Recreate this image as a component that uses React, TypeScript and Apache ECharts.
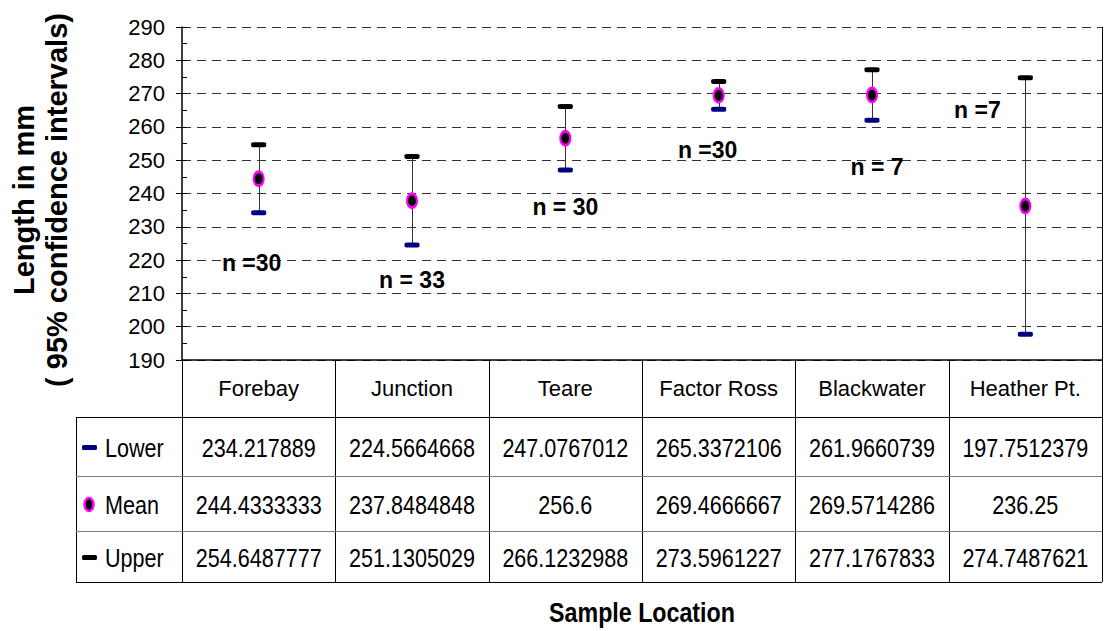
import React, { useEffect, useRef } from "react";
import * as echarts from "echarts";

// ---------- data ----------
const categories = ["Forebay", "Junction", "Teare", "Factor Ross", "Blackwater", "Heather Pt."];
const lowerValues = [234.217889, 224.5664668, 247.0767012, 265.3372106, 261.9660739, 197.7512379];
const meanValues = [244.4333333, 237.8484848, 256.6, 269.4666667, 269.5714286, 236.25];
const upperValues = [254.6487777, 251.1305029, 266.1232988, 273.5961227, 277.1767833, 274.7487621];
const rowNames = ["Lower", "Mean", "Upper"];
const sampleSizeLabels = ["n =30", "n = 33", "n = 30", "n =30", "n = 7", "n =7"];
const sampleLabelValues = [219, 214, 236, 253, 248, 265];
const yMin = 190;
const yMax = 290;
const yStep = 10;
const yAxisTitle = ["Length in mm", "( 95% confidence intervals)"];
const xAxisTitle = "Sample Location";

// ---------- layout ----------
const W = 1107;
const H = 631;
const GRID_L = 182;
const GRID_R = 1102;
const GRID_T = 27;
const GRID_B = 360;
const HEADER_B = 417;
const ROW_B = [476, 531, 582];
const LEGEND_L = 76;
const labelDx = [-7, 0, 0, -11, 5, -48];

const SANS = "'Liberation Sans', Arial, sans-serif";
const NARROW_X = 0.83;
const NAVY = "#000080";
const MAGENTA = "#ff00ff";
const ELLIPSE = "path://M0,-1 A1,1 0 1,1 0,1 A1,1 0 1,1 0,-1 Z";

export default function App() {
  const ref = useRef<HTMLDivElement>(null);

  useEffect(() => {
    document.body.style.margin = "0";
    const chart = echarts.init(ref.current as HTMLDivElement, null, { renderer: "svg" });
    const n = categories.length;
    const band = (GRID_R - GRID_L) / n;
    const rows = [lowerValues, meanValues, upperValues];
    const graphic: any[] = [];
    const line = (x1: number, y1: number, x2: number, y2: number, stroke: string, lw = 1) =>
      graphic.push({ type: "line", silent: true, z: 10, shape: { x1, y1, x2, y2 }, style: { stroke, lineWidth: lw } });
    const narrowText = (text: string, x: number, y: number, align: string, size = 26, weight = "normal") =>
      graphic.push({
        type: "text",
        silent: true,
        x,
        y,
        scaleX: NARROW_X,
        scaleY: 1,
        style: {
          text,
          font: `${weight} ${size}px ${SANS}`,
          fill: "#000",
          textAlign: align,
          textVerticalAlign: "middle",
        },
      });

    // table grid
    for (let k = 1; k < n; k++) {
      const x = Math.round(GRID_L + k * band) + 0.5;
      line(x, GRID_B, x, ROW_B[2], "#000");
    }
    line(GRID_L + 0.5, GRID_B, GRID_L + 0.5, ROW_B[2], "#000");
    line(GRID_R + 0.5, GRID_T, GRID_R + 0.5, ROW_B[2], "#000");
    line(LEGEND_L + 0.5, HEADER_B, LEGEND_L + 0.5, ROW_B[2], "#000");
    line(LEGEND_L, HEADER_B + 0.5, GRID_R, HEADER_B + 0.5, "#000");
    line(LEGEND_L, ROW_B[0] + 0.5, GRID_R, ROW_B[0] + 0.5, "#808080");
    line(LEGEND_L, ROW_B[1] + 0.5, GRID_R, ROW_B[1] + 0.5, "#808080");
    line(LEGEND_L, ROW_B[2] + 0.5, GRID_R, ROW_B[2] + 0.5, "#000");

    rows.forEach((vals, r) => {
      const top = r === 0 ? HEADER_B : ROW_B[r - 1];
      const cy = (top + ROW_B[r]) / 2 + 1;
      vals.forEach((v, i) => narrowText(String(v), GRID_L + band * (i + 0.5), cy, "center"));
      narrowText(rowNames[r], 105, cy, "left");
      if (r === 1) {
        graphic.push({
          type: "ellipse",
          silent: true,
          shape: { cx: 89, cy, rx: 4.5, ry: 6.5 },
          style: { fill: "#000", stroke: MAGENTA, lineWidth: 2.5 },
        });
      } else {
        graphic.push({
          type: "rect",
          silent: true,
          shape: { x: 82, y: cy - 2.5, width: 15, height: 5, r: 1.5 },
          style: { fill: r === 0 ? NAVY : "#000" },
        });
      }
    });

    // axis titles
    graphic.push({
      type: "text",
      silent: true,
      x: 24,
      y: 200,
      rotation: Math.PI / 2,
      style: { text: yAxisTitle[0], font: `bold 29px ${SANS}`, fill: "#000", textAlign: "center", textVerticalAlign: "middle" },
    });
    graphic.push({
      type: "text",
      silent: true,
      x: 57,
      y: 200,
      rotation: Math.PI / 2,
      style: { text: yAxisTitle[1], font: `bold 29px ${SANS}`, fill: "#000", textAlign: "center", textVerticalAlign: "middle" },
    });
    narrowText(xAxisTitle, (GRID_L + GRID_R) / 2, 612, "center", 28, "bold");

    const option: any = {
      animation: false,
      backgroundColor: "#fff",
      grid: { left: GRID_L, top: GRID_T, width: GRID_R - GRID_L, height: GRID_B - GRID_T, containLabel: false },
      xAxis: {
        type: "category",
        data: categories,
        boundaryGap: true,
        axisLine: { show: true, lineStyle: { color: "#000", width: 1.5 } },
        axisTick: { show: false },
        axisLabel: { color: "#000", fontFamily: SANS, fontSize: 22, margin: 28, verticalAlign: "middle", interval: 0 },
        splitLine: { show: false },
      },
      yAxis: [
        {
          type: "value",
          min: yMin,
          max: yMax,
          interval: yStep,
          position: "left",
          axisLine: { show: true, lineStyle: { color: "#000", width: 1.5 } },
          axisTick: { show: true, length: 6, lineStyle: { color: "#000" } },
          axisLabel: { color: "#000", fontFamily: SANS, fontSize: 22, margin: 17 },
          splitLine: { show: true, lineStyle: { color: "#333", type: [9, 6], width: 1 } },
        },
        {
          type: "value",
          min: yMin,
          max: yMax,
          interval: yStep / 2,
          position: "left",
          axisLine: { show: false },
          axisTick: { show: true, inside: true, length: 5, lineStyle: { color: "#000" } },
          axisLabel: { show: false },
          splitLine: { show: false },
        },
      ],
      series: [
        {
          type: "custom",
          name: "CI",
          z: 1,
          silent: true,
          data: categories.map((_, i) => [i, lowerValues[i], upperValues[i]]),
          encode: { x: 0, y: [1, 2] },
          renderItem: (params: any, api: any) => {
            const lo = api.coord([api.value(0), api.value(1)]);
            const hi = api.coord([api.value(0), api.value(2)]);
            const x = Math.round(lo[0]) + 0.5;
            return {
              type: "line",
              shape: { x1: x, y1: lo[1], x2: x, y2: hi[1] },
              style: { stroke: "#333", lineWidth: 1 },
            };
          },
        },
        {
          type: "scatter",
          name: "Lower",
          z: 3,
          silent: true,
          symbol: "roundRect",
          symbolSize: [15, 5],
          itemStyle: { color: NAVY, opacity: 1 },
          data: lowerValues.map((v, i) => [i, v]),
        },
        {
          type: "scatter",
          name: "Upper",
          z: 3,
          silent: true,
          symbol: "roundRect",
          symbolSize: [15, 5],
          itemStyle: { color: "#000", opacity: 1 },
          data: upperValues.map((v, i) => [i, v]),
        },
        {
          type: "scatter",
          name: "Mean",
          z: 4,
          silent: true,
          symbol: ELLIPSE,
          symbolSize: [10, 14],
          itemStyle: { color: "#000", borderColor: MAGENTA, borderWidth: 2.5, opacity: 1 },
          data: meanValues.map((v, i) => [i, v]),
        },
        {
          type: "scatter",
          name: "n",
          z: 5,
          silent: true,
          symbol: "circle",
          symbolSize: 1,
          itemStyle: { color: "rgba(0,0,0,0)" },
          label: {
            show: true,
            position: "inside",
            color: "#000",
            textBorderWidth: 0,
            opacity: 1,
            fontFamily: SANS,
            fontWeight: "bold",
            fontSize: 23,
            formatter: (p: any) => sampleSizeLabels[p.dataIndex],
          },
          data: sampleLabelValues.map((v, i) => ({ value: [i, v], label: { offset: [labelDx[i], 0] } })),
        },
      ],
      graphic,
    };

    chart.setOption(option);
    return () => chart.dispose();
  }, []);

  return <div ref={ref} style={{ width: W, height: H }} />;
}
